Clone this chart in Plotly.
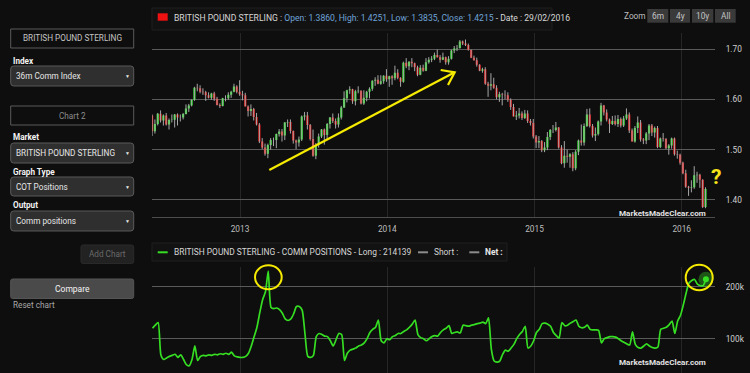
import plotly.graph_objects as go
import pandas as pd

W, H = 750, 373
BG = '#0e0e0e'
FONT = 'Roboto'


def px(x):
    return x / W


def py(y):
    return 1 - y / H


# ---------------- data ----------------
week_dates = pd.date_range('2012-05-28', periods=197, freq='7D')   # weekly bars (Monday)
cot_dates = pd.date_range('2012-05-29', periods=197, freq='7D')    # COT report (Tuesday)

first_open = 1.5680
closes = [
    1.5365, 1.5512, 1.5715, 1.5580, 1.5680, 1.5500, 1.5590, 1.5595, 1.5700, 1.5640,
    1.5640, 1.5710, 1.5820, 1.5880, 1.5985, 1.6230, 1.6220, 1.6150, 1.6140, 1.6080,
    1.6030, 1.6115, 1.6010, 1.5890, 1.5870, 1.6020, 1.6020, 1.6090, 1.6150, 1.6255,
    1.6150, 1.6100,
    1.6080, 1.5860, 1.5770, 1.5810, 1.5650, 1.5500, 1.5160, 1.5040, 1.4920, 1.5090,
    1.5190, 1.5190, 1.5310, 1.5360, 1.5280, 1.5540, 1.5550, 1.5370, 1.5180, 1.5140,
    1.5200, 1.5660, 1.5680, 1.5490, 1.5210, 1.4880, 1.5090, 1.5260, 1.5400, 1.5290,
    1.5510, 1.5640, 1.5570, 1.5500, 1.5640, 1.5840, 1.6020, 1.6180, 1.6200, 1.5960,
    1.6160, 1.6170, 1.5920, 1.6030, 1.6150, 1.6210, 1.6370, 1.6390, 1.6310, 1.6360,
    1.6470, 1.6400,
    1.6460, 1.6420, 1.6530, 1.6430, 1.6350, 1.6730, 1.6660, 1.6750, 1.6720, 1.6640,
    1.6490, 1.6630, 1.6570, 1.6740, 1.6790, 1.6810, 1.6880, 1.6840, 1.6790, 1.6840,
    1.6740, 1.6810, 1.6970, 1.7010, 1.7020, 1.7150, 1.7110, 1.7080, 1.6980, 1.6830,
    1.6780, 1.6690, 1.6570, 1.6600, 1.6310, 1.6270, 1.6300, 1.6230, 1.6040, 1.6100,
    1.6090, 1.6080, 1.5990, 1.5850, 1.5660, 1.5680, 1.5720, 1.5630, 1.5720, 1.5570,
    1.5530, 1.5260,
    1.5140, 1.5170, 1.4990, 1.5040, 1.5250, 1.5390, 1.5390, 1.5440, 1.5040, 1.4730,
    1.4880, 1.4860, 1.4910, 1.4630, 1.4960, 1.5180, 1.5140, 1.5470, 1.5700, 1.5470,
    1.5280, 1.5310, 1.5560, 1.5880, 1.5740, 1.5600, 1.5510, 1.5570, 1.5510, 1.5610,
    1.5480, 1.5620, 1.5700, 1.5380, 1.5160, 1.5430, 1.5540, 1.5200, 1.5180, 1.5320,
    1.5480, 1.5340, 1.5430, 1.5050, 1.5220, 1.5210, 1.5030, 1.5080, 1.5220, 1.4910,
    1.4900, 1.4740,
    1.4530, 1.4260, 1.4240, 1.4250, 1.4490, 1.4500, 1.4400, 1.3860, 1.4215,
]
highs = [
    1.5700, 1.5600, 1.5730, 1.5780, 1.5700, 1.5730, 1.5620, 1.5700, 1.5710, 1.5720,
    1.5700, 1.5730, 1.5900, 1.5910, 1.6000, 1.6250, 1.6310, 1.6280, 1.6220, 1.6170,
    1.6140, 1.6130, 1.6150, 1.6050, 1.5920, 1.6030, 1.6080, 1.6140, 1.6170, 1.6310,
    1.6280, 1.6380,
    1.6170, 1.6130, 1.5880, 1.5900, 1.5830, 1.5730, 1.5530, 1.5230, 1.5120, 1.5120,
    1.5230, 1.5240, 1.5320, 1.5410, 1.5410, 1.5550, 1.5600, 1.5600, 1.5380, 1.5200,
    1.5260, 1.5680, 1.5750, 1.5750, 1.5510, 1.5400, 1.5130, 1.5320, 1.5410, 1.5420,
    1.5530, 1.5650, 1.5720, 1.5620, 1.5720, 1.5870, 1.6160, 1.6190, 1.6260, 1.6210,
    1.6190, 1.6260, 1.6180, 1.6180, 1.6170, 1.6240, 1.6380, 1.6440, 1.6480, 1.6480,
    1.6480, 1.6600,
    1.6470, 1.6480, 1.6670, 1.6600, 1.6440, 1.6750, 1.6820, 1.6760, 1.6820, 1.6730,
    1.6670, 1.6680, 1.6690, 1.6820, 1.6840, 1.6860, 1.6930, 1.6990, 1.6880, 1.6930,
    1.6850, 1.6860, 1.6990, 1.7060, 1.7080, 1.7180, 1.7170, 1.7190, 1.7110, 1.6990,
    1.6870, 1.6830, 1.6700, 1.6630, 1.6640, 1.6350, 1.6520, 1.6430, 1.6280, 1.6150,
    1.6130, 1.6180, 1.6140, 1.6020, 1.5910, 1.5770, 1.5830, 1.5760, 1.5790, 1.5780,
    1.5610, 1.5610,
    1.5290, 1.5270, 1.5190, 1.5150, 1.5350, 1.5410, 1.5490, 1.5550, 1.5450, 1.5090,
    1.5170, 1.5000, 1.4930, 1.4950, 1.4990, 1.5200, 1.5500, 1.5520, 1.5810, 1.5820,
    1.5510, 1.5440, 1.5580, 1.5930, 1.5890, 1.5800, 1.5620, 1.5670, 1.5680, 1.5690,
    1.5640, 1.5670, 1.5820, 1.5740, 1.5420, 1.5470, 1.5660, 1.5590, 1.5230, 1.5350,
    1.5510, 1.5510, 1.5460, 1.5470, 1.5240, 1.5330, 1.5230, 1.5110, 1.5240, 1.5240,
    1.4980, 1.4920,
    1.4760, 1.4600, 1.4280, 1.4390, 1.4670, 1.4560, 1.4520, 1.4410, 1.4251,
]
lows = [
    1.5270, 1.5320, 1.5480, 1.5540, 1.5480, 1.5480, 1.5400, 1.5540, 1.5440, 1.5480,
    1.5560, 1.5600, 1.5700, 1.5750, 1.5860, 1.5970, 1.6160, 1.6120, 1.6090, 1.5970,
    1.6020, 1.5990, 1.5970, 1.5880, 1.5830, 1.5860, 1.5960, 1.5990, 1.6030, 1.6140,
    1.6120, 1.6070,
    1.5980, 1.5860, 1.5660, 1.5670, 1.5580, 1.5480, 1.5130, 1.5010, 1.4880, 1.4830,
    1.5000, 1.5070, 1.5030, 1.5260, 1.5160, 1.5190, 1.5450, 1.5320, 1.5120, 1.5010,
    1.5060, 1.5170, 1.5580, 1.5400, 1.5180, 1.4860, 1.4810, 1.5040, 1.5230, 1.5100,
    1.5190, 1.5420, 1.5530, 1.5420, 1.5440, 1.5600, 1.5830, 1.5940, 1.6110, 1.5910,
    1.5880, 1.6120, 1.5900, 1.5890, 1.5960, 1.6020, 1.6170, 1.6270, 1.6300, 1.6290,
    1.6310, 1.6350,
    1.6250, 1.6290, 1.6380, 1.6400, 1.6250, 1.6330, 1.6620, 1.6580, 1.6640, 1.6560,
    1.6460, 1.6480, 1.6550, 1.6560, 1.6710, 1.6740, 1.6780, 1.6830, 1.6730, 1.6780,
    1.6690, 1.6690, 1.6790, 1.6920, 1.6960, 1.7010, 1.7080, 1.7060, 1.6970, 1.6820,
    1.6770, 1.6650, 1.6560, 1.6530, 1.6290, 1.6050, 1.6180, 1.6210, 1.6000, 1.5950,
    1.5880, 1.6000, 1.5950, 1.5790, 1.5660, 1.5590, 1.5620, 1.5590, 1.5610, 1.5530,
    1.5480, 1.5220,
    1.5030, 1.5030, 1.4950, 1.4950, 1.4990, 1.5190, 1.5330, 1.5360, 1.5020, 1.4710,
    1.4640, 1.4740, 1.4640, 1.4570, 1.4590, 1.4890, 1.5080, 1.5080, 1.5450, 1.5440,
    1.5240, 1.5170, 1.5280, 1.5480, 1.5680, 1.5560, 1.5330, 1.5490, 1.5480, 1.5450,
    1.5440, 1.5450, 1.5590, 1.5330, 1.5160, 1.5140, 1.5330, 1.5160, 1.5110, 1.5110,
    1.5190, 1.5270, 1.5240, 1.5030, 1.5030, 1.5160, 1.5010, 1.4900, 1.5020, 1.4880,
    1.4820, 1.4700,
    1.4510, 1.4240, 1.4080, 1.4150, 1.4220, 1.4340, 1.4240, 1.3840, 1.3835,
]
opens = [first_open] + closes[:-1]

# Commercial long positions, thousands of contracts
cot_long_k = [
    120, 126, 131, 68, 60, 63, 66, 68, 70, 64,
    69, 60, 50, 48, 60, 86, 58, 66, 68, 67,
    69, 68, 70, 69, 71, 70, 72, 70, 74, 67,
    65, 64, 64, 66, 72, 86, 104, 122, 150, 175,
    190, 230, 160, 158, 159, 156, 149, 138, 135, 138,
    148, 162, 162, 155, 110, 66, 64, 68, 104, 110,
    108, 105, 104, 96, 86, 98, 110, 108, 58, 72,
    78, 80, 82, 86, 88, 92, 100, 112, 118, 122,
    136, 96, 92, 100, 98, 104, 106, 110, 110, 114,
    117, 122, 128, 136, 108, 102, 100, 96, 100, 104,
    106, 105, 112, 117, 120, 125, 110, 112, 113, 111,
    126, 125, 124, 126, 127, 129, 130, 132, 129, 140,
    80, 57, 55, 57, 70, 78, 76, 82, 89, 100,
    108, 114, 124, 82, 86, 96, 112, 118, 129, 130,
    128, 124, 112, 106, 101, 131, 125, 126, 130, 133,
    136, 124, 121, 122, 126, 118, 117, 117, 116, 92,
    100, 102, 104, 104, 103, 100, 96, 93, 90, 88,
    113, 89, 83, 82, 86, 90, 86, 83, 82, 84,
    118, 120, 122, 127, 134, 110, 134, 145, 165, 188,
    207, 212, 214, 205, 202, 202, 214.139,
]
cot_long = [v * 1000 for v in cot_long_k]

price_ticks = [1.40, 1.50, 1.60, 1.70]
cot_ticks = [100000, 200000]

market = 'BRITISH POUND STERLING'

# ---------------- figure ----------------
fig = go.Figure()

WICK = '#a6a6a6'
# wicks (high-low lines)
fig.add_trace(go.Ohlc(
    x=week_dates, open=opens, high=highs, low=lows, close=closes,
    increasing=dict(line=dict(color=WICK, width=1)),
    decreasing=dict(line=dict(color=WICK, width=1)),
    tickwidth=0, xaxis='x', yaxis='y', showlegend=False, hoverinfo='skip'))
# coloured bodies
fig.add_trace(go.Candlestick(
    x=week_dates, open=opens, high=highs, low=lows, close=closes,
    increasing=dict(line=dict(color='#2fe62f', width=0), fillcolor='#2fe62f'),
    decreasing=dict(line=dict(color='#f21c1c', width=0), fillcolor='#f21c1c'),
    whiskerwidth=0, xaxis='x', yaxis='y', showlegend=False, hoverinfo='skip'))

fig.add_trace(go.Scatter(
    x=cot_dates, y=cot_long, mode='lines', line=dict(color='#35de22', width=1.7, shape='spline', smoothing=0.6),
    xaxis='x2', yaxis='y2', showlegend=False, hoverinfo='skip'))
# last-point highlight
fig.add_trace(go.Scatter(
    x=[cot_dates[-1]], y=[cot_long[-1]], mode='markers',
    marker=dict(size=15, color='rgba(60,220,40,0.35)'),
    xaxis='x2', yaxis='y2', showlegend=False, hoverinfo='skip'))
fig.add_trace(go.Scatter(
    x=[cot_dates[-1]], y=[cot_long[-1]], mode='markers',
    marker=dict(size=6, color='#35de22'),
    xaxis='x2', yaxis='y2', showlegend=False, hoverinfo='skip'))

x_range = ['2012-05-27 19:00', '2016-03-23 13:00']
xdom = [px(152), px(715)]

fig.update_layout(
    width=W, height=H, autosize=False,
    margin=dict(l=0, r=0, t=0, b=0, pad=0),
    paper_bgcolor=BG, plot_bgcolor=BG,
    font=dict(family=FONT, color='#cccccc', size=8.5),
    showlegend=False,
    boxgap=0.22, boxgroupgap=0,
    xaxis=dict(domain=xdom, range=x_range, anchor='y', type='date',
               rangeslider=dict(visible=False),
               tickformat='%Y', dtick='M12', tick0='2013-01-01',
               showgrid=True, gridcolor='#262626', gridwidth=1,
               showline=True, linecolor='#4c4c4c', linewidth=1,
               ticks='outside', ticklen=4, tickcolor=BG,
               tickfont=dict(size=8.3, color='#bdbdbd', family=FONT), zeroline=False),
    yaxis=dict(domain=[py(216.7), py(33)], range=[1.3666, 1.732], anchor='x', side='right',
               tickvals=price_ticks, tickformat='.2f',
               showgrid=True, gridcolor='#5a5a5a', gridwidth=1, zeroline=False,
               ticks='outside', ticklen=8, tickcolor=BG,
               tickfont=dict(size=8.3, color='#d0d0d0', family=FONT)),
    xaxis2=dict(domain=xdom, range=x_range, anchor='y2', type='date',
                dtick='M12', tick0='2013-01-01', showticklabels=False,
                showgrid=True, gridcolor='#262626', gridwidth=1, zeroline=False, showline=False),
    yaxis2=dict(domain=[0, py(266.7)], range=[34000, 238500], anchor='x2', side='right',
                tickvals=cot_ticks, tickformat='.0s',
                showgrid=True, gridcolor='#5a5a5a', gridwidth=1, zeroline=False,
                ticks='outside', ticklen=8, tickcolor=BG,
                tickfont=dict(size=8.3, color='#d0d0d0', family=FONT)),
)

shapes = []
annots = []


def rect(x0, y0, x1, y1, fill, line='rgba(0,0,0,0)', lw=1):
    shapes.append(dict(type='rect', xref='paper', yref='paper',
                       x0=px(x0), x1=px(x1), y0=py(y1), y1=py(y0),
                       fillcolor=fill, line=dict(color=line, width=lw), layer='above'))


def rrect(x0, y0, x1, y1, fill, line='rgba(0,0,0,0)', r=3, lw=1):
    pts = [
        ('M', x0 + r, y0), ('L', x1 - r, y0), ('Q', x1, y0, x1, y0 + r),
        ('L', x1, y1 - r), ('Q', x1, y1, x1 - r, y1), ('L', x0 + r, y1),
        ('Q', x0, y1, x0, y1 - r), ('L', x0, y0 + r), ('Q', x0, y0, x0 + r, y0),
    ]
    s = ''
    for p in pts:
        cmd = p[0]
        coords = p[1:]
        parts = []
        for i in range(0, len(coords), 2):
            parts.append(f'{px(coords[i]):.5f},{py(coords[i + 1]):.5f}')
        s += cmd + ' ' + ' '.join(parts) + ' '
    s += 'Z'
    shapes.append(dict(type='path', xref='paper', yref='paper', path=s,
                       fillcolor=fill, line=dict(color=line, width=lw), layer='above'))


def text(x, y, t, size=8.2, color='#d0d0d0', anchor='left', bold=False, family=FONT):
    annots.append(dict(x=px(x), y=py(y), xref='paper', yref='paper', text=(f'<b>{t}</b>' if bold else t),
                       showarrow=False, xanchor=anchor, yanchor='middle',
                       font=dict(size=size, color=color, family=family)))


SB = 8.2  # sidebar font size
# ---------------- sidebar ----------------
rect(10.7, 29, 133.7, 48, BG, '#5a5a5a')
text(72.2, 38.5, market, SB, '#c4c4c4', 'center')
text(10.5, 61, 'Index', SB, '#f2f2f2', 'left', True)
rrect(10.7, 66, 133.7, 86, '#2f2f2f', '#5a5a5a')
text(14, 76, '36m Comm Index', SB, '#e6e6e6', 'left')
text(127, 76, '▼', 5, '#e6e6e6', 'center')

rect(10.7, 106, 133.7, 125, BG, '#5a5a5a')
text(72.2, 115.5, 'Chart 2', SB, '#8c8c8c', 'center')
text(10.5, 137, 'Market', SB, '#f2f2f2', 'left', True)
rrect(10.7, 143, 133.7, 163, '#2f2f2f', '#5a5a5a')
text(14, 153, market, SB, '#e6e6e6', 'left')
text(127, 153, '▼', 5, '#e6e6e6', 'center')
text(10.5, 172, 'Graph Type', SB, '#f2f2f2', 'left', True)
rrect(10.7, 177, 133.7, 196, '#2f2f2f', '#5a5a5a')
text(14, 186.5, 'COT Positions', SB, '#e6e6e6', 'left')
text(127, 186.5, '▼', 5, '#e6e6e6', 'center')
text(10.5, 205, 'Output', SB, '#f2f2f2', 'left', True)
rrect(10.7, 211, 133.7, 231, '#2f2f2f', '#5a5a5a')
text(14, 221, 'Comm positions', SB, '#e6e6e6', 'left')
text(127, 221, '▼', 5, '#e6e6e6', 'center')

rrect(81, 245, 133.7, 263.5, '#222222', '#2a2a2a', r=2)
text(107.3, 254.3, 'Add Chart', SB, '#6a6a6a', 'center')
rrect(10.7, 279, 133.7, 298.5, '#4a4a4a', '#555555', r=2)
text(72.2, 288.8, 'Compare', 8.5, '#f4f4f4', 'center')
text(10.5, 305, 'Reset chart', SB, '#a8a8a8', 'left')

# ---------------- top chart header ----------------
rect(152, 8, 552, 30, '#121212', '#1e1e1e')
rect(157.7, 13.3, 167.7, 20.7, '#ee1111')
hdr = (f"<span style='color:#d6d6d6'>{market} : </span>"
       f"<span style='color:#6fa3d8'>Open: {opens[-1]:.4f}, High: {highs[-1]:.4f}, "
       f"Low: {lows[-1]:.4f}, Close: {closes[-1]:.4f}</span>"
       f"<span style='color:#d6d6d6'> - Date : {week_dates[-1]:%d/%m/%Y}</span>")
text(171.5, 17.5, hdr, 8.6)

text(635, 15.7, 'Zoom', 8.3, '#bdbdbd', 'center')
for (x0, x1, lab) in [(647.3, 668.3, '6m'), (670, 690, '4y'), (692, 713.3, '10y'), (715, 735.7, 'All')]:
    rect(x0, 9, x1, 22.7, '#3a3a3a')
    text((x0 + x1) / 2, 15.9, lab, 8.3, '#c4c4c4', 'center')

# ---------------- bottom chart header ----------------
rect(152, 243, 507, 261, '#121212', '#1e1e1e')
shapes.append(dict(type='line', xref='paper', yref='paper', x0=px(157.7), x1=px(167.7),
                   y0=py(252.3), y1=py(252.3), line=dict(color='#35de22', width=2), layer='above'))
text(171.5, 252.3, f'{market} - COMM POSITIONS - Long : {int(round(cot_long[-1]))}', 8.4, '#d6d6d6')
shapes.append(dict(type='line', xref='paper', yref='paper', x0=px(418), x1=px(428),
                   y0=py(252.3), y1=py(252.3), line=dict(color='#8c8c8c', width=2), layer='above'))
text(432, 252.3, 'Short :', 8.4, '#d6d6d6')
shapes.append(dict(type='line', xref='paper', yref='paper', x0=px(469.3), x1=px(479.3),
                   y0=py(252.3), y1=py(252.3), line=dict(color='#8c8c8c', width=2), layer='above'))
text(483, 252.3, 'Net :', 8.4, '#e6e6e6', 'left', True)

# ---------------- annotations (yellow) ----------------
YEL = '#f5ea00'
shapes.append(dict(type='line', xref='paper', yref='paper', x0=px(269.3), y0=py(170),
                   x1=px(454.7), y1=py(72.3), line=dict(color=YEL, width=2.2), layer='above'))
shapes.append(dict(type='path', xref='paper', yref='paper',
                   path=f'M {px(440.7):.5f},{py(70):.5f} L {px(454.7):.5f},{py(72.3):.5f} L {px(448):.5f},{py(85):.5f}',
                   line=dict(color=YEL, width=2.2), layer='above'))
text(716, 177, '?', 21, '#f7e31a', 'center', True)
shapes.append(dict(type='circle', xref='paper', yref='paper', x0=px(255), x1=px(281.7),
                   y0=py(289.3), y1=py(265.3), line=dict(color=YEL, width=2), layer='above'))
shapes.append(dict(type='circle', xref='paper', yref='paper', x0=px(685.7), x1=px(712.7),
                   y0=py(290.3), y1=py(264.7), line=dict(color=YEL, width=2), layer='above'))

# watermarks
text(708, 213, 'MarketsMadeClear.com', 8.1, '#e2e2e2', 'right', True)
text(708, 362.3, 'MarketsMadeClear.com', 8.1, '#e2e2e2', 'right', True)

fig.update_layout(shapes=shapes, annotations=annots)

page_fix = ("document.documentElement.style.margin='0';document.body.style.margin='0';"
            "document.body.style.padding='0';document.body.style.overflow='hidden';"
            f"document.body.style.background='{BG}';")
fig.write_html('out.html', config={'displayModeBar': False, 'responsive': False},
               post_script=page_fix)
